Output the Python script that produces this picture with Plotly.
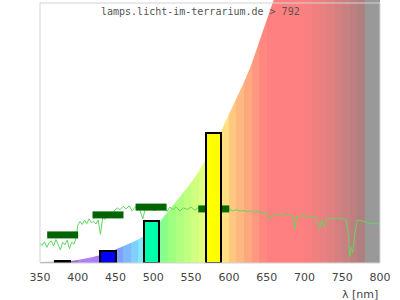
import plotly.graph_objects as go

# ---------------- data ----------------
x_ticks = [350, 400, 450, 500, 550, 600, 650, 700, 750, 800]
title_text = "lamps.licht-im-terrarium.de > 792"
x_label = "λ [nm]"

# envelope of the coloured spectrum area (relative units, 1 = frame top)
curve_wl = [350, 380, 390, 400, 410, 420, 430, 440, 450, 460, 470, 480, 490, 500,
            510, 520, 530, 540, 550, 560, 570, 580, 590, 600, 610, 620, 630, 640,
            650, 660, 670, 700, 800]
curve_v = [0.004, 0.006, 0.008, 0.012, 0.017, 0.023, 0.031, 0.04, 0.052, 0.064, 0.077,
           0.09, 0.108, 0.132, 0.163, 0.198, 0.235, 0.272, 0.31, 0.352, 0.40, 0.452,
           0.51, 0.57, 0.633, 0.695, 0.765, 0.845, 0.93, 1.01, 1.09, 1.35, 2.2]

# colour bands of the spectrum background
band_start = [350, 380, 400, 410, 420, 430, 440, 450, 460, 470, 480, 490, 500, 510,
              520, 530, 540, 550, 560, 570, 580, 590, 600, 610, 620, 630, 640, 650,
              700, 710, 720, 730, 740, 750, 760, 770, 780]
band_end = band_start[1:] + [800]
band_colors = ["#aaaaaa", "#9c70c8", "#b080f0", "#b080f8", "#a880ff", "#9880ff",
               "#8890ff", "#80a0ff", "#80b8ff", "#80d0ff", "#80e8ff", "#80fff0",
               "#80ffb0", "#88ff88", "#a0ff80", "#b0ff80", "#c0ff80", "#d0ff80",
               "#e0ff80", "#f0ff80", "#fff080", "#ffe080", "#ffc880", "#ffb880",
               "#ffa880", "#ff9880", "#ff8880", "#ff8080", "#f88080", "#f08080",
               "#e88080", "#e08080", "#d48080", "#c88080", "#bc8080", "#b08080",
               "#999999"]

# measured lamp spectrum (green line)
spec_wl = [350, 353, 356, 359, 362, 365, 368, 371, 374, 377, 380, 383, 386, 389, 392,
           395, 398, 400, 403, 406, 409, 412, 415, 418, 421, 424, 427, 430, 433, 436,
           440, 444, 448, 452, 456, 460, 464, 468, 472, 476, 480, 484, 486, 490, 494,
           498, 502, 506, 510, 514, 518, 522, 526, 530, 535, 540, 545, 550, 555, 560,
           565, 570, 575, 580, 585, 590, 595, 600, 605, 610, 615, 620, 625, 630, 635,
           640, 645, 650, 655, 660, 665, 670, 675, 680, 685, 687, 690, 695, 700, 705,
           710, 715, 720, 723, 726, 730, 735, 740, 745, 750, 755, 758, 760, 762, 764,
           767, 770, 775, 780, 785, 790, 795, 800]
spec_v = [0.075, 0.068, 0.082, 0.06, 0.078, 0.085, 0.065, 0.09, 0.072, 0.05, 0.08,
          0.07, 0.088, 0.055, 0.08, 0.072, 0.1, 0.145, 0.16, 0.148, 0.165, 0.152, 0.17,
          0.155, 0.16, 0.15, 0.165, 0.11, 0.175, 0.168, 0.182, 0.178, 0.2, 0.212, 0.205,
          0.218, 0.208, 0.22, 0.2, 0.215, 0.222, 0.19, 0.17, 0.215, 0.205, 0.218, 0.2,
          0.214, 0.208, 0.22, 0.198, 0.215, 0.205, 0.216, 0.2, 0.212, 0.206, 0.215,
          0.203, 0.214, 0.207, 0.205, 0.212, 0.21, 0.205, 0.21, 0.205, 0.208, 0.2,
          0.205, 0.2, 0.202, 0.198, 0.2, 0.195, 0.198, 0.19, 0.192, 0.17, 0.188, 0.185,
          0.19, 0.185, 0.187, 0.18, 0.13, 0.178, 0.18, 0.182, 0.178, 0.18, 0.175, 0.13,
          0.165, 0.14, 0.17, 0.172, 0.17, 0.173, 0.17, 0.168, 0.11, 0.025, 0.06, 0.04,
          0.12, 0.165, 0.163, 0.158, 0.155, 0.15, 0.152, 0.148]

# band averages (dark green markers)
avg_center = [380, 440, 497, 580]
avg_value = [0.108, 0.185, 0.215, 0.208]

# lamp bars
lamp_center = [380, 440, 497, 580]
lamp_value = [0.008, 0.047, 0.163, 0.50]
lamp_colors = ["#3d003d", "#0000ff", "#00ffaa", "#ffff00"]

# ---------------- figure ----------------
X_MIN, X_MAX = 350, 800
Y_TOP = 263 / 260  # plot area reaches slightly above the frame
AVG_HALF = 20.5
LAMP_W = 20

fig = go.Figure()

fig.add_trace(go.Bar(
    x=[(a + b) / 2 for a, b in zip(band_start, band_end)],
    y=[3] * len(band_start),
    width=[b - a for a, b in zip(band_start, band_end)],
    marker=dict(color=band_colors, line=dict(width=0)),
    hoverinfo="skip", showlegend=False,
))

fig.add_trace(go.Scatter(
    x=curve_wl + [X_MAX, X_MIN],
    y=curve_v + [3, 3],
    fill="toself", fillcolor="white", mode="lines",
    line=dict(width=0, color="white"),
    hoverinfo="skip", showlegend=False,
))

fig.add_trace(go.Scatter(
    x=spec_wl, y=spec_v, mode="lines",
    line=dict(color="#5fd85f", width=1),
    hoverinfo="skip", showlegend=False,
))

ax, ay = [], []
for c, v in zip(avg_center, avg_value):
    ax += [c - AVG_HALF, c + AVG_HALF, None]
    ay += [v, v, None]
fig.add_trace(go.Scatter(
    x=ax, y=ay, mode="lines",
    line=dict(color="#006400", width=7),
    hoverinfo="skip", showlegend=False,
))

fig.add_trace(go.Bar(
    x=lamp_center, y=lamp_value, width=[LAMP_W] * len(lamp_center),
    marker=dict(color=lamp_colors, line=dict(color="black", width=2)),
    yaxis="y2", hoverinfo="skip", showlegend=False,
))

fig.update_layout(
    width=400, height=300,
    margin=dict(l=40, r=20, t=0, b=37),
    paper_bgcolor="white", plot_bgcolor="white",
    barmode="overlay", bargap=0,
    xaxis=dict(range=[X_MIN, X_MAX], tickvals=x_ticks,
               ticktext=[str(t) for t in x_ticks],
               showgrid=False, zeroline=False, showline=False,
               ticks="outside", ticklen=4, tickcolor="rgba(0,0,0,0)",
               tickfont=dict(family="DejaVu Sans", size=11, color="#444444")),
    yaxis=dict(range=[0, Y_TOP], visible=False, showgrid=False, zeroline=False),
    yaxis2=dict(range=[0, Y_TOP], visible=False, overlaying="y", showgrid=False,
                zeroline=False),
    shapes=[dict(type="rect", xref="paper", yref="paper", x0=0, x1=1,
                 y0=0, y1=1 / Y_TOP, line=dict(color="#d4d4d4", width=1),
                 fillcolor="rgba(0,0,0,0)", layer="above")],
    annotations=[
        dict(text=title_text, xref="paper", yref="paper", x=160 / 340, y=(263 - 12) / 263,
             xanchor="center", yanchor="middle", showarrow=False,
             font=dict(family="DejaVu Sans Mono", size=10, color="#555555")),
        dict(text=x_label, xref="paper", yref="paper", x=1, y=(263 - 294) / 263,
             xanchor="right", yanchor="middle", showarrow=False,
             font=dict(family="DejaVu Sans", size=11, color="#444444")),
    ],
)

fig.write_html("out.html")
